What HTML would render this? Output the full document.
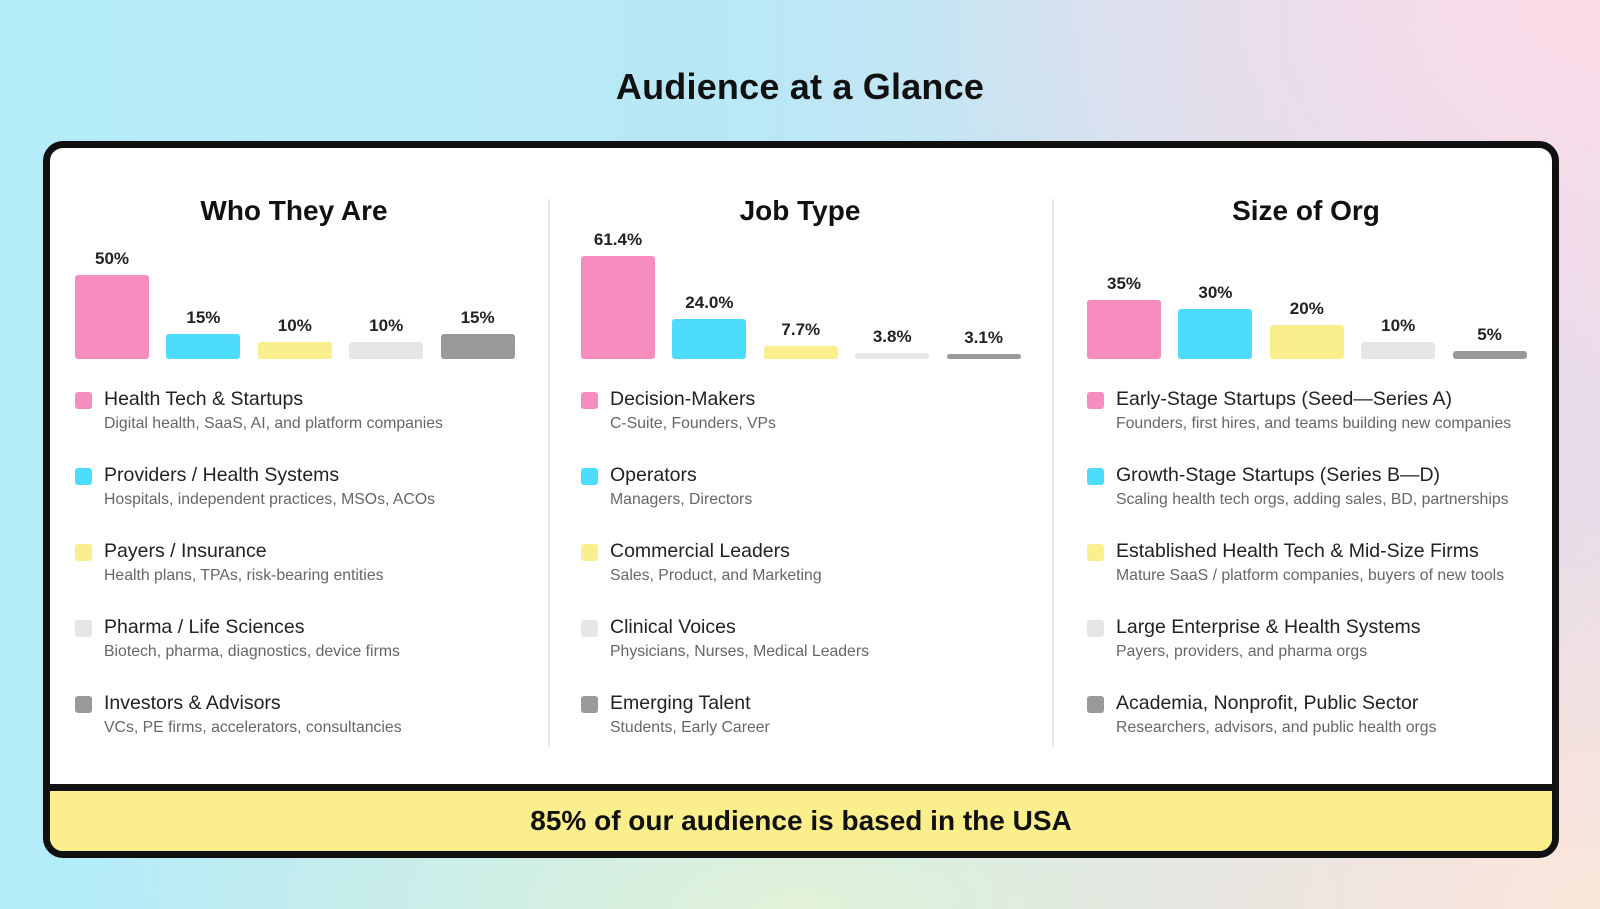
<!DOCTYPE html>
<html><head><meta charset="utf-8">
<style>
*{margin:0;padding:0;box-sizing:border-box}
body{width:1600px;height:909px;overflow:hidden;font-family:"Liberation Sans",sans-serif;position:relative;
background:
radial-gradient(ellipse 700px 500px at 1600px 0px,#fcdbe8 0%,rgba(252,219,232,0) 100%),
radial-gradient(ellipse 700px 450px at 1600px 909px,#fbe6da 0%,rgba(251,230,218,0) 100%),
radial-gradient(ellipse 700px 300px at 800px 909px,#e2f2d8 0%,rgba(226,242,216,0) 100%),
linear-gradient(90deg,#b4ecf8 0%,#b8e8f6 45%,#e6dcea 100%);}
.title{position:absolute;left:0;width:1600px;top:66px;text-align:center;font-size:36px;font-weight:bold;color:#111;letter-spacing:0.2px}
.card{position:absolute;left:43px;top:141px;width:1516px;height:717px;border:7px solid #111;border-radius:20px;background:#fff;overflow:hidden}
.footer{position:absolute;left:0;right:0;bottom:0;height:67px;background:#faef8c;border-top:7px solid #111;text-align:center;font-size:28px;font-weight:bold;line-height:60px;color:#111}
.divider{position:absolute;top:51px;width:2px;height:548px;background:#e8e8e8}
.ph{position:absolute;width:450px;text-align:center;font-size:28px;font-weight:bold;color:#111;top:47px}
.abs{position:absolute}
.lbl{position:absolute;font-size:17px;font-weight:bold;color:#222;text-align:center;width:100px}
.lh{position:absolute;font-size:19.5px;color:#222;white-space:nowrap}
.ls{position:absolute;font-size:15.8px;color:#666;white-space:nowrap}
.sq{position:absolute;width:17px;height:17px;border-radius:3px}
</style></head><body>
<div class="title">Audience at a Glance</div>
<div class="card" id="card">
  <div class="divider" style="left:498px"></div>
  <div class="divider" style="left:1002px"></div>
  <div class="footer">85% of our audience is based in the USA</div>
</div>
<script>
const colors=["#f78dbf","#4ddcfb","#f9f08d","#e6e6e6","#999999"];
const panelTitles=["Who They Are","Job Type","Size of Org"];
const whoValues=[50,15,10,10,15];
const whoLabels=["50%","15%","10%","10%","15%"];
const jobValues=[61.4,24.0,7.7,3.8,3.1];
const jobLabels=["61.4%","24.0%","7.7%","3.8%","3.1%"];
const sizeValues=[35,30,20,10,5];
const sizeLabels=["35%","30%","20%","10%","5%"];
const whoCats=["Health Tech & Startups","Providers / Health Systems","Payers / Insurance","Pharma / Life Sciences","Investors & Advisors"];
const whoSubs=["Digital health, SaaS, AI, and platform companies","Hospitals, independent practices, MSOs, ACOs","Health plans, TPAs, risk-bearing entities","Biotech, pharma, diagnostics, device firms","VCs, PE firms, accelerators, consultancies"];
const jobCats=["Decision-Makers","Operators","Commercial Leaders","Clinical Voices","Emerging Talent"];
const jobSubs=["C-Suite, Founders, VPs","Managers, Directors","Sales, Product, and Marketing","Physicians, Nurses, Medical Leaders","Students, Early Career"];
const sizeCats=["Early-Stage Startups (Seed\u2014Series A)","Growth-Stage Startups (Series B\u2014D)","Established Health Tech & Mid-Size Firms","Large Enterprise & Health Systems","Academia, Nonprofit, Public Sector"];
const sizeSubs=["Founders, first hires, and teams building new companies","Scaling health tech orgs, adding sales, BD, partnerships","Mature SaaS / platform companies, buyers of new tools","Payers, providers, and pharma orgs","Researchers, advisors, and public health orgs"];

const panels=[[whoValues,whoLabels,whoCats,whoSubs],[jobValues,jobLabels,jobCats,jobSubs],[sizeValues,sizeLabels,sizeCats,sizeSubs]];
const card=document.getElementById('card');
const ox=50, oy=148;
const baseY=359-oy, pxPerPct=1.68;
function yScale(v){return v*pxPerPct;}
function xBar(p,i){return 75-ox+p*506+i*91.4;}
panels.forEach((pd,p)=>{
  const [vals,labs,cats,subs]=pd;
  const h=document.createElement('div');h.className='ph';
  h.style.left=(294-ox+p*506-225)+'px';h.textContent=panelTitles[p];
  
  
  card.appendChild(h);
  vals.forEach((v,i)=>{
    const bh=Math.max(yScale(v),4);
    const b=document.createElement('div');b.className='abs';
    b.style.cssText=`left:${xBar(p,i)}px;top:${baseY-bh}px;width:74px;height:${bh}px;background:${colors[i]};border-radius:3px`;
    
    
    card.appendChild(b);
    const l=document.createElement('div');l.className='lbl';
    l.style.left=(xBar(p,i)-13)+'px';l.style.top=(baseY-bh-26)+'px';l.textContent=labs[i];
    
    
    card.appendChild(l);
    const ly=400-oy+i*76;
    const s=document.createElement('div');s.className='sq';
    s.style.left=(75-ox+p*506)+'px';s.style.top=(ly-8)+'px';s.style.background=colors[i];
    
    
    card.appendChild(s);
    const t=document.createElement('div');t.className='lh';
    t.style.left=(104-ox+p*506)+'px';t.style.top=(ly-12)+'px';t.textContent=cats[i];
    
    
    card.appendChild(t);
    const u=document.createElement('div');u.className='ls';
    u.style.left=(104-ox+p*506)+'px';u.style.top=(ly+15)+'px';u.textContent=subs[i];
    
    
    card.appendChild(u);
  });
});
</script>
</body></html>
